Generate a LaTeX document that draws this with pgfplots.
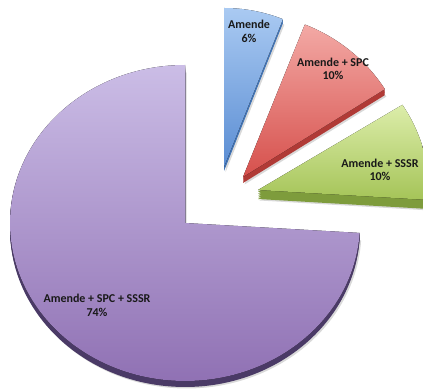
\documentclass[border=0pt]{standalone}
\usepackage{fontspec}
\setmainfont{Carlito}
\usepackage{pgfplots}
\pgfplotsset{compat=1.18}

\definecolor{purpTop}{HTML}{CBBDE6}
\definecolor{purpBot}{HTML}{8F70B3}
\definecolor{purpSide}{HTML}{4A3A66}
\definecolor{blueTop}{HTML}{AACAF2}
\definecolor{blueBot}{HTML}{5A8DD3}
\definecolor{blueSide}{HTML}{4274B5}
\definecolor{redTop}{HTML}{F3A9A5}
\definecolor{redBot}{HTML}{D6504C}
\definecolor{redSide}{HTML}{B03A36}
\definecolor{grnTop}{HTML}{DCEDAA}
\definecolor{grnBot}{HTML}{A5C458}
\definecolor{grnSide}{HTML}{7E9C3C}

\tikzset{lbl/.style={font=\bfseries\fontsize{12}{13.5}\selectfont,
    align=center, text=black!90}}

% shares (percent), clockwise from 12 o'clock
\def\vA{6}  % Amende
\def\vB{10} % Amende + SPC
\def\vC{10} % Amende + SSSR
\def\vD{74} % Amende + SPC + SSSR
\pgfmathsetmacro{\aO}{90}
\pgfmathsetmacro{\aA}{\aO-3.6*\vA}
\pgfmathsetmacro{\aB}{\aA-3.6*\vB}
\pgfmathsetmacro{\aC}{\aB-3.6*\vC}
\pgfmathsetmacro{\aD}{\aC-3.6*\vD}

% one wedge of an ellipse: apex x, apex y, start, end, x radius, y radius, style
\newcommand{\pieslice}[7]{%
  \fill[#7] (axis cs:#1,#2)
    -- (axis cs:{#1+#5*cos(#3)},{#2+#6*sin(#3)})
    arc[start angle=#3, end angle=#4, x radius=#5, y radius=#6] -- cycle;}
% extruded wedge: x, y, a, b, rx, ry, colour prefix, depth
\newcommand{\slab}[8]{%
  \pieslice{#1+1.5}{#2-#8-1.5}{#3}{#4}{#5}{#6}{gray, opacity=0.3}
  \pieslice{#1}{#2-#8}{#3}{#4}{#5}{#6}{#7Side}
  \pieslice{#1}{#2-#8*0.8}{#3}{#4}{#5}{#6}{#7Side}
  \pieslice{#1}{#2-#8*0.6}{#3}{#4}{#5}{#6}{#7Side}
  \pieslice{#1}{#2-#8*0.4}{#3}{#4}{#5}{#6}{#7Side}
  \pieslice{#1}{#2-#8*0.2}{#3}{#4}{#5}{#6}{#7Side}
  \pieslice{#1}{#2}{#3}{#4}{#5}{#6}{top color=#7Top, bottom color=#7Bot}}

\begin{document}
\begin{tikzpicture}
\begin{axis}[
    scale only axis,
    width=423pt, height=391pt,
    xmin=0, xmax=423, ymin=0, ymax=391,
    hide axis,
]
\path (axis cs:0,0) rectangle (axis cs:423,391);
\slab{224}{224}{\aO}{\aA}{160}{159}{blue}{4}
\slab{243}{214}{\aA}{\aB}{168}{164}{red}{6}
\slab{258}{201}{\aB}{\aC}{171}{159}{grn}{9}
\slab{185}{168}{\aC}{\aD}{175}{158}{purp}{6}

\node[lbl] at (axis cs:249,359.5) {Amende\\6\%};
\node[lbl] at (axis cs:333,322) {Amende + SPC\\10\%};
\node[lbl] at (axis cs:380,221) {Amende + SSSR\\10\%};
\node[lbl] at (axis cs:97,85.5) {Amende + SPC + SSSR\\74\%};
\end{axis}
\end{tikzpicture}
\end{document}
